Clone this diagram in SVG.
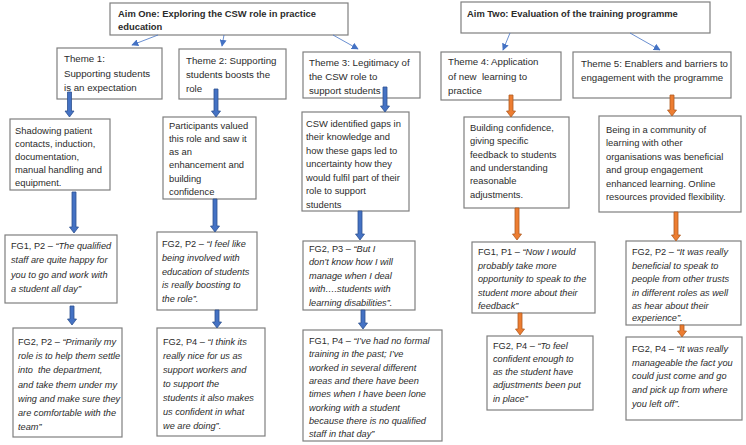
<svg xmlns="http://www.w3.org/2000/svg" width="746" height="445" viewBox="0 0 746 445">
  <defs>
    <marker id="tip" viewBox="0 0 10 10" refX="9" refY="5" markerWidth="7" markerHeight="7" orient="auto" markerUnits="userSpaceOnUse">
      <path d="M0,0 L10,5 L0,10 z" fill="#4472C4"/>
    </marker>
    <style>
      .box { fill: #ffffff; stroke: #7f7f7f; stroke-width: 1.2; }
      text { font-family: "Liberation Sans", Arial, sans-serif; fill: #2b2b2b; }
      .aim { font-size: 9.4px; font-weight: bold; }
      .theme { font-size: 9.7px; }
      .body { font-size: 9.4px; }
      .quote { font-size: 9.2px; }
      .it { font-style: italic; }
      .thin { stroke: #4472C4; stroke-width: 0.8; fill: none; marker-end: url(#tip); }
      .blue { fill: #4472C4; stroke: #2F528F; stroke-width: 0.8; }
      .orange { fill: #ED7D31; stroke: #AE5A21; stroke-width: 0.8; }
    </style>
  </defs>
  <rect width="746" height="445" fill="#ffffff"/>

  <!-- Aims -->
  <g id="aim-one">
    <rect class="box" x="110" y="3" width="238" height="32"/>
    <text class="aim" x="118" y="17">Aim One: Exploring the CSW role in practice</text>
    <text class="aim" x="118" y="30">education</text>
  </g>
  <g id="aim-two">
    <rect class="box" x="461" y="2" width="249" height="31"/>
    <text class="aim" x="467" y="17">Aim Two: Evaluation of the training programme</text>
  </g>

  <!-- Themes -->
  <g id="theme-1">
    <rect class="box" x="57" y="48" width="105" height="51"/>
    <text class="theme" x="64" y="62">Theme 1:</text>
    <text class="theme" x="64" y="76.5">Supporting students</text>
    <text class="theme" x="64" y="91">is an expectation</text>
  </g>
  <g id="theme-2">
    <rect class="box" x="179" y="49" width="107" height="50"/>
    <text class="theme" x="186" y="64">Theme 2: Supporting</text>
    <text class="theme" x="186" y="78">students boosts the</text>
    <text class="theme" x="186" y="92">role</text>
  </g>
  <g id="theme-3">
    <rect class="box" x="303" y="52" width="117" height="46"/>
    <text class="theme" x="309" y="66">Theme 3: Legitimacy of</text>
    <text class="theme" x="309" y="80">the CSW role to</text>
    <text class="theme" x="309" y="94">support students</text>
  </g>
  <g id="theme-4">
    <rect class="box" x="441" y="52" width="120" height="48"/>
    <text class="theme" x="448" y="65">Theme 4: Application</text>
    <text class="theme" x="448" y="79.5" xml:space="preserve">of new  learning to</text>
    <text class="theme" x="448" y="94">practice</text>
  </g>
  <g id="theme-5">
    <rect class="box" x="573" y="52" width="158" height="46"/>
    <text class="theme" x="581" y="66.5">Theme 5: Enablers and barriers to</text>
    <text class="theme" x="581" y="80.5">engagement with the programme</text>
  </g>

  <!-- Findings -->
  <g id="finding-1">
    <rect class="box" x="10" y="119" width="100" height="71"/>
    <text class="body" x="15" y="133.5">Shadowing patient</text>
    <text class="body" x="15" y="146.7">contacts, induction,</text>
    <text class="body" x="15" y="159.9">documentation,</text>
    <text class="body" x="15" y="173.1">manual handling and</text>
    <text class="body" x="15" y="186.3">equipment.</text>
  </g>
  <g id="finding-2">
    <rect class="box" x="163" y="117" width="93" height="82"/>
    <text class="body" x="169" y="128.5">Participants valued</text>
    <text class="body" x="169" y="141.8">this role and saw it</text>
    <text class="body" x="169" y="155">as an</text>
    <text class="body" x="169" y="168.3">enhancement and</text>
    <text class="body" x="169" y="181.6">building</text>
    <text class="body" x="169" y="194.8">confidence</text>
  </g>
  <g id="finding-3">
    <rect class="box" x="302" y="112" width="107" height="99"/>
    <text class="body" x="306" y="126.5">CSW identified gaps in</text>
    <text class="body" x="306" y="140">their knowledge and</text>
    <text class="body" x="306" y="153.5">how these gaps led to</text>
    <text class="body" x="306" y="167">uncertainty how they</text>
    <text class="body" x="306" y="180.5">would fulfil part of their</text>
    <text class="body" x="306" y="194">role to support</text>
    <text class="body" x="306" y="207.5">students</text>
  </g>
  <g id="finding-4">
    <rect class="box" x="464" y="117" width="105" height="91"/>
    <text class="body" x="470" y="131">Building confidence,</text>
    <text class="body" x="470" y="144.3">giving specific</text>
    <text class="body" x="470" y="157.6">feedback to students</text>
    <text class="body" x="470" y="170.9">and understanding</text>
    <text class="body" x="470" y="184.2">reasonable</text>
    <text class="body" x="470" y="197.5">adjustments.</text>
  </g>
  <g id="finding-5">
    <rect class="box" x="599" y="116" width="142" height="96"/>
    <text class="body" x="606" y="132.5">Being in a community of</text>
    <text class="body" x="606" y="146">learning with other</text>
    <text class="body" x="606" y="159.5">organisations was beneficial</text>
    <text class="body" x="606" y="173">and group engagement</text>
    <text class="body" x="606" y="186.5">enhanced learning. Online</text>
    <text class="body" x="606" y="200">resources provided flexibility.</text>
  </g>

  <!-- Quotes, first row -->
  <g id="quote-1a">
    <rect class="box" x="5" y="235" width="112" height="68"/>
    <text class="quote" x="11" y="248.5">FG1, P2 – <tspan class="it">“The qualified</tspan></text>
    <text class="quote it" x="11" y="263">staff are quite happy for</text>
    <text class="quote it" x="11" y="277.5">you to go and work with</text>
    <text class="quote it" x="11" y="292">a student all day”</text>
  </g>
  <g id="quote-2a">
    <rect class="box" x="157" y="232" width="100" height="78"/>
    <text class="quote" x="162" y="247">FG2, P2 – <tspan class="it">“I feel like</tspan></text>
    <text class="quote it" x="162" y="260.8">being involved with</text>
    <text class="quote it" x="162" y="274.6">education of students</text>
    <text class="quote it" x="162" y="288.4">is really boosting to</text>
    <text class="quote it" x="162" y="302.2">the role”.</text>
  </g>
  <g id="quote-3a">
    <rect class="box" x="303" y="241" width="112" height="69"/>
    <text class="quote" x="309" y="251.5">FG2, P3 – <tspan class="it">“But I</tspan></text>
    <text class="quote it" x="309" y="265">don’t know how I will</text>
    <text class="quote it" x="309" y="278.5">manage when I deal</text>
    <text class="quote it" x="309" y="292">with….students with</text>
    <text class="quote it" x="309" y="305.5">learning disabilities”.</text>
  </g>
  <g id="quote-4a">
    <rect class="box" x="472" y="242" width="123" height="71"/>
    <text class="quote" x="478" y="255">FG1, P1 – <tspan class="it">“Now I would</tspan></text>
    <text class="quote it" x="478" y="268.5">probably take more</text>
    <text class="quote it" x="478" y="282">opportunity to speak to the</text>
    <text class="quote it" x="478" y="295.5">student more about their</text>
    <text class="quote it" x="478" y="309">feedback”</text>
  </g>
  <g id="quote-5a">
    <rect class="box" x="626" y="241" width="115" height="84"/>
    <text class="quote" x="632" y="255">FG2, P2 – <tspan class="it">“It was really</tspan></text>
    <text class="quote it" x="632" y="268.5">beneficial to speak to</text>
    <text class="quote it" x="632" y="282">people from other trusts</text>
    <text class="quote it" x="632" y="295.5">in different roles as well</text>
    <text class="quote it" x="632" y="309">as hear about their</text>
    <text class="quote it" x="632" y="320.5">experience”.</text>
  </g>

  <!-- Quotes, second row -->
  <g id="quote-1b">
    <rect class="box" x="13" y="328" width="109" height="109"/>
    <text class="quote" x="18" y="345">FG2, P2 – <tspan class="it">“Primarily my</tspan></text>
    <text class="quote it" x="18" y="359.2">role is to help them settle</text>
    <text class="quote it" x="18" y="373.4" xml:space="preserve">into  the department,</text>
    <text class="quote it" x="18" y="387.6">and take them under my</text>
    <text class="quote it" x="18" y="401.8">wing and make sure they</text>
    <text class="quote it" x="18" y="416">are comfortable with the</text>
    <text class="quote it" x="18" y="430.2">team”</text>
  </g>
  <g id="quote-2b">
    <rect class="box" x="157" y="328" width="108" height="108"/>
    <text class="quote" x="163" y="344.5">FG2, P4 – <tspan class="it">“I think its</tspan></text>
    <text class="quote it" x="163" y="358.6">really nice for us as</text>
    <text class="quote it" x="163" y="372.7">support workers and</text>
    <text class="quote it" x="163" y="386.8">to support the</text>
    <text class="quote it" x="163" y="400.9">students it also makes</text>
    <text class="quote it" x="163" y="415">us confident in what</text>
    <text class="quote it" x="163" y="429.1">we are doing”.</text>
  </g>
  <g id="quote-3b">
    <rect class="box" x="303" y="330" width="139" height="111"/>
    <text class="quote" x="309" y="344">FG1, P4 – <tspan class="it">“I’ve had no formal</tspan></text>
    <text class="quote it" x="309" y="357.3">training in the past; I’ve</text>
    <text class="quote it" x="309" y="370.6">worked in several different</text>
    <text class="quote it" x="309" y="383.9">areas and there have been</text>
    <text class="quote it" x="309" y="397.2">times when I have been lone</text>
    <text class="quote it" x="309" y="410.5">working with a student</text>
    <text class="quote it" x="309" y="423.8">because there is no qualified</text>
    <text class="quote it" x="309" y="437.1">staff in that day”</text>
  </g>
  <g id="quote-4b">
    <rect class="box" x="487" y="336" width="106" height="74"/>
    <text class="quote" x="493" y="348.5">FG2, P4 – <tspan class="it">“To feel</tspan></text>
    <text class="quote it" x="493" y="361.8">confident enough to</text>
    <text class="quote it" x="493" y="375.1">as the student have</text>
    <text class="quote it" x="493" y="388.4">adjustments been put</text>
    <text class="quote it" x="493" y="401.7">in place”</text>
  </g>
  <g id="quote-5b">
    <rect class="box" x="626" y="337" width="116" height="83"/>
    <text class="quote" x="632" y="352">FG2, P4 – <tspan class="it">“It was really</tspan></text>
    <text class="quote it" x="632" y="365.7">manageable the fact you</text>
    <text class="quote it" x="632" y="379.4">could just come and go</text>
    <text class="quote it" x="632" y="393.1">and pick up from where</text>
    <text class="quote it" x="632" y="406.8">you left off”.</text>
  </g>

  <!-- Connectors -->
  <g id="connectors">
    <line class="thin" x1="158" y1="35" x2="132" y2="45"/>
    <line class="thin" x1="224" y1="35" x2="222" y2="46"/>
    <line class="thin" x1="333" y1="35" x2="358" y2="49"/>
    <line class="thin" x1="510" y1="33" x2="503" y2="50"/>
    <line class="thin" x1="630" y1="33" x2="660" y2="50"/>

    <polygon class="blue" points="67.5,92 71.5,92 71.5,111 74,111 69.5,117 65,111 67.5,111"/>
    <polygon class="blue" points="214,89 218,89 218,111 220.5,111 216,117 211.5,111 214,111"/>
    <polygon class="blue" points="383,87 387,87 387,106 389.5,106 385,112 380.5,106 383,106"/>
    <polygon class="blue" points="72,192 76,192 76,227 78.5,227 74,233 69.5,227 72,227"/>
    <polygon class="blue" points="70,306 74,306 74,319 76.5,319 72,325 67.5,319 70,319"/>
    <polygon class="blue" points="213,199 217,199 217,226 219.5,226 215,232 210.5,226 213,226"/>
    <polygon class="blue" points="215,310 219,310 219,322 221.5,322 217,328 212.5,322 215,322"/>
    <polygon class="blue" points="358,211 362,211 362,234 364.5,234 360,240 355.5,234 358,234"/>
    <polygon class="blue" points="361,310 365,310 365,323 367.5,323 363,329 358.5,323 361,323"/>

    <polygon class="orange" points="509,95 513,95 513,111 515.5,111 511,117 506.5,111 509,111"/>
    <polygon class="orange" points="515,208 519,208 519,234 521.5,234 517,240 512.5,234 515,234"/>
    <polygon class="orange" points="518,313 522,313 522,329 524.5,329 520,335 515.5,329 518,329"/>
    <polygon class="orange" points="670,95 674,95 674,110 676.5,110 672,116 667.5,110 670,110"/>
    <polygon class="orange" points="674,212 678,212 678,235 680.5,235 676,241 671.5,235 674,235"/>
    <polygon class="orange" points="680,325 684,325 684,331 686.5,331 682,337 677.5,331 680,331"/>
  </g>
</svg>
